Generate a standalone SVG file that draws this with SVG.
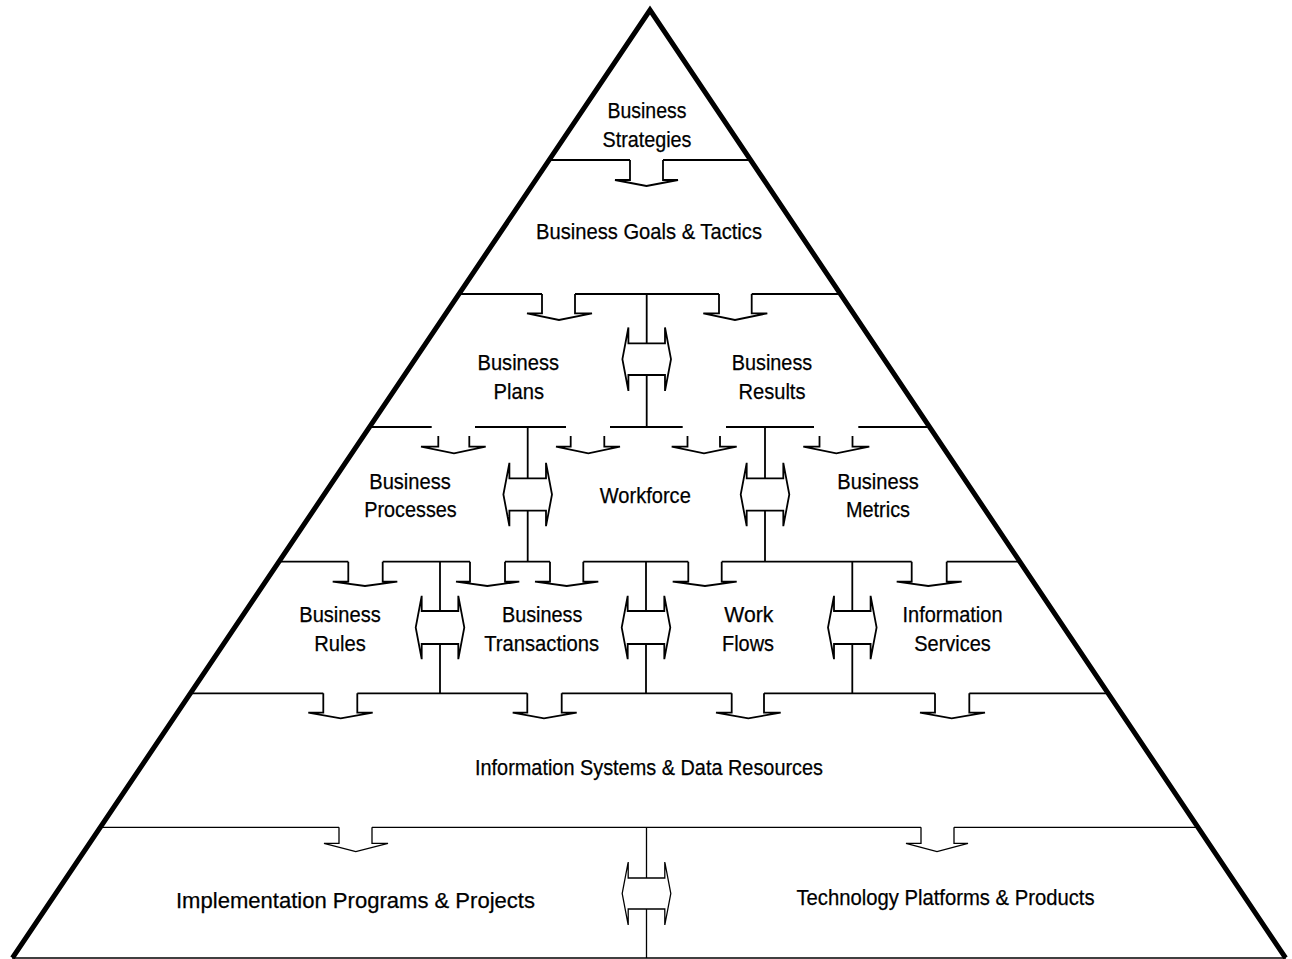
<svg xmlns="http://www.w3.org/2000/svg" width="1292" height="959" viewBox="0 0 1292 959">
<style>
.tri{fill:none;stroke:#000;stroke-width:5;stroke-linejoin:miter}
.ln{fill:none;stroke:#000;stroke-width:1.8}
.thin{fill:none;stroke:#000;stroke-width:1.3}
.da{fill:none;stroke:#000;stroke-width:1.8;stroke-linejoin:miter}
text{font-family:"Liberation Sans",Arial,sans-serif;font-size:22px;text-anchor:middle;fill:#000;stroke:#000;stroke-width:0.25}
</style>
<rect width="1292" height="959" fill="#fff"/>
<g id="bands">
<path class="ln" d="M549,160H630M663,160H751"/>
<path class="ln" d="M459,294H542M575,294H719M751.7,294H841"/>
<path class="ln" d="M369.5,427H431.7M475,427H566M610,427H682.7M726,427H814M858.3,427H930"/>
<path class="ln" d="M279,561.7H348.3M382.7,561.7H470M505,561.7H550M583.3,561.7H688.3M721.7,561.7H911.7M946.7,561.7H1020"/>
<path class="ln" d="M190,693.3H323.3M357.3,693.3H527.3M561.7,693.3H731.7M764,693.3H935M969.3,693.3H1108"/>
<path class="thin" d="M100,827.3H339M372,827.3H921M954,827.3H1198"/>
<path class="thin" d="M12,958H1286"/>
</g>
<g id="connectors">
<polyline class="ln" points="630,160 630,180 615,180 646.5,186 678,180 663,180 663,160"/>
<polyline class="ln" points="542,294 542,313.3 527,313.3 559,320 592,313.3 575,313.3 575,294"/>
<polyline class="ln" points="719,294 719,313.3 703.3,313.3 735,320 767.3,313.3 751.7,313.3 751.7,294"/>
<polyline class="ln" points="438.3,436 438.3,446.7 421,446.7 454,453.3 485.7,446.7 469.3,446.7 469.3,436"/>
<polyline class="ln" points="570.7,436 570.7,446.7 556,446.7 588.3,453.3 620,446.7 604.3,446.7 604.3,436"/>
<polyline class="ln" points="687.5,436 687.5,446.7 671.7,446.7 704,453.3 736.7,446.7 720,446.7 720,436"/>
<polyline class="ln" points="819.5,436 819.5,446.7 803.3,446.7 836.3,453.3 869.3,446.7 852.5,446.7 852.5,436"/>
<polyline class="ln" points="348.3,561.7 348.3,581.7 332.7,581.7 365,586 397.3,581.7 382.7,581.7 382.7,561.7"/>
<polyline class="ln" points="470,561.7 470,581.7 456,581.7 487.3,586 519.3,581.7 505,581.7 505,561.7"/>
<polyline class="ln" points="550,561.7 550,581.7 535,581.7 566.7,586 598.3,581.7 583.3,581.7 583.3,561.7"/>
<polyline class="ln" points="688.3,561.7 688.3,581.7 672.7,581.7 705,586 736.7,581.7 721.7,581.7 721.7,561.7"/>
<polyline class="ln" points="911.7,561.7 911.7,581.7 896.7,581.7 928.3,586 961.7,581.7 946.7,581.7 946.7,561.7"/>
<polyline class="ln" points="323.3,693.3 323.3,712.7 308.3,712.7 340.7,718.3 372.7,712.7 357.3,712.7 357.3,693.3"/>
<polyline class="ln" points="527.3,693.3 527.3,712.7 512.7,712.7 544,718.3 576.7,712.7 561.7,712.7 561.7,693.3"/>
<polyline class="ln" points="731.7,693.3 731.7,712.7 716,712.7 748.3,718.3 780.7,712.7 764,712.7 764,693.3"/>
<polyline class="ln" points="935,693.3 935,712.7 920,712.7 951.7,718.3 985,712.7 969.3,712.7 969.3,693.3"/>
<polyline class="thin" points="339,827.3 339,843.3 324,843.3 355.8,851.7 388,843.3 372,843.3 372,827.3"/>
<polyline class="thin" points="921,827.3 921,843.3 906,843.3 937,851.7 968,843.3 954,843.3 954,827.3"/>
<path class="ln" d="M646.7,294V343.3M646.7,375V427M527.7,427V478.3M527.7,510.7V561.7M765,427V478.3M765,510.7V561.7M440,561.7V611M440,644V693.3M646,561.7V611M646,644V693.3M852.3,561.7V611M852.3,644V693.3"/>
<path class="thin" d="M646.5,827.3V878M646.5,909V958"/>
<polygon class="da" points="628.4,343.3 665,343.3 665,327.5 671,359.2 665,390.9 665,375 628.4,375 628.4,390.9 622.4,359.2 628.4,327.5"/>
<polygon class="da" points="509.4,478.3 546,478.3 546,462.8 552,494.5 546,526.2 546,510.7 509.4,510.7 509.4,526.2 503.4,494.5 509.4,462.8"/>
<polygon class="da" points="746.7,478.3 783.3,478.3 783.3,462.8 789.3,494.5 783.3,526.2 783.3,510.7 746.7,510.7 746.7,526.2 740.7,494.5 746.7,462.8"/>
<polygon class="da" points="421.7,611 458.3,611 458.3,595.8 464.3,627.5 458.3,659.2 458.3,644 421.7,644 421.7,659.2 415.7,627.5 421.7,595.8"/>
<polygon class="da" points="627.7,611 664.3,611 664.3,595.8 670.3,627.5 664.3,659.2 664.3,644 627.7,644 627.7,659.2 621.7,627.5 627.7,595.8"/>
<polygon class="da" points="834,611 870.6,611 870.6,595.8 876.6,627.5 870.6,659.2 870.6,644 834,644 834,659.2 828,627.5 834,595.8"/>
<polygon class="da" style="stroke-width:1.3" points="628.2,878 664.8,878 664.8,862 670.8,893.5 664.8,925 664.8,909 628.2,909 628.2,925 622.2,893.5 628.2,862"/>
</g>
<g id="pyramid">
<polyline class="tri" points="12.4,958 650,10 1285.6,958"/>
</g>
<g id="n-strategies">
<text x="647" y="118" textLength="79" lengthAdjust="spacingAndGlyphs">Business</text>
<text x="647" y="147" textLength="89" lengthAdjust="spacingAndGlyphs">Strategies</text>
</g>
<g id="n-goals">
<text x="649" y="239" textLength="226" lengthAdjust="spacingAndGlyphs">Business Goals &amp; Tactics</text>
</g>
<g id="n-plans">
<text x="518.3" y="370" textLength="81.5" lengthAdjust="spacingAndGlyphs">Business</text>
<text x="518.8" y="398.5" textLength="50.5" lengthAdjust="spacingAndGlyphs">Plans</text>
</g>
<g id="n-results">
<text x="772" y="370" textLength="80.5" lengthAdjust="spacingAndGlyphs">Business</text>
<text x="772" y="398.5" textLength="67" lengthAdjust="spacingAndGlyphs">Results</text>
</g>
<g id="n-processes">
<text x="410" y="488.5" textLength="81.5" lengthAdjust="spacingAndGlyphs">Business</text>
<text x="410.5" y="517" textLength="92.5" lengthAdjust="spacingAndGlyphs">Processes</text>
</g>
<g id="n-workforce">
<text x="645.3" y="503" textLength="91" lengthAdjust="spacingAndGlyphs">Workforce</text>
</g>
<g id="n-metrics">
<text x="878" y="488.5" textLength="81.5" lengthAdjust="spacingAndGlyphs">Business</text>
<text x="878" y="517" textLength="64" lengthAdjust="spacingAndGlyphs">Metrics</text>
</g>
<g id="n-rules">
<text x="340" y="622" textLength="81.5" lengthAdjust="spacingAndGlyphs">Business</text>
<text x="340" y="650.5" textLength="51.5" lengthAdjust="spacingAndGlyphs">Rules</text>
</g>
<g id="n-transactions">
<text x="542.2" y="622" textLength="80.5" lengthAdjust="spacingAndGlyphs">Business</text>
<text x="541.7" y="650.5" textLength="115" lengthAdjust="spacingAndGlyphs">Transactions</text>
</g>
<g id="n-workflows">
<text x="748.8" y="622" textLength="49" lengthAdjust="spacingAndGlyphs">Work</text>
<text x="748" y="650.5" textLength="52" lengthAdjust="spacingAndGlyphs">Flows</text>
</g>
<g id="n-infoservices">
<text x="952.5" y="622" textLength="100" lengthAdjust="spacingAndGlyphs">Information</text>
<text x="952.5" y="650.5" textLength="76.5" lengthAdjust="spacingAndGlyphs">Services</text>
</g>
<g id="n-infosystems">
<text x="649" y="775" textLength="348" lengthAdjust="spacingAndGlyphs">Information Systems &amp; Data Resources</text>
</g>
<g id="n-implementation">
<text x="355.5" y="908" textLength="359" lengthAdjust="spacingAndGlyphs">Implementation Programs &amp; Projects</text>
</g>
<g id="n-technology">
<text x="945.5" y="905" textLength="298" lengthAdjust="spacingAndGlyphs">Technology Platforms &amp; Products</text>
</g>
</svg>
